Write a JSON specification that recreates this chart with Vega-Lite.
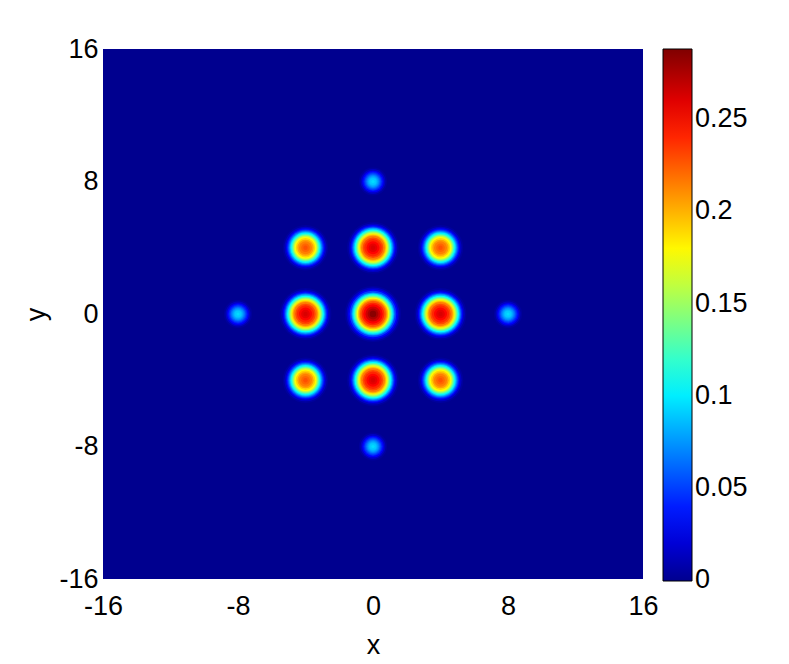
{
  "$schema": "https://vega.github.io/schema/vega-lite/v6.json",
  "width": 540,
  "height": 530,
  "autosize": "none",
  "padding": {"left": 103, "top": 49, "right": 146, "bottom": 85},
  "background": "white",
  "config": {
    "view": {"fill": "#00008F", "stroke": null},
    "font": "Liberation Sans"
  },
  "datasets": {
    "types": [
      {"type": "center", "xs": [0], "ys": [0]},
      {"type": "side", "xs": [4, -4, 0, 0], "ys": [0, 0, 4, -4]},
      {"type": "corner", "xs": [4, -4, 4, -4], "ys": [4, 4, -4, -4]},
      {"type": "small", "xs": [8, -8, 0, 0], "ys": [0, 0, 8, -8]}
    ],
    "profiles": [
      {"type": "center", "r": 1.541, "v": 0.004},
      {"type": "center", "r": 1.452, "v": 0.015},
      {"type": "center", "r": 1.363, "v": 0.03},
      {"type": "center", "r": 1.274, "v": 0.05},
      {"type": "center", "r": 1.185, "v": 0.075},
      {"type": "center", "r": 1.126, "v": 0.095},
      {"type": "center", "r": 1.067, "v": 0.115},
      {"type": "center", "r": 1.007, "v": 0.135},
      {"type": "center", "r": 0.948, "v": 0.155},
      {"type": "center", "r": 0.889, "v": 0.175},
      {"type": "center", "r": 0.83, "v": 0.195},
      {"type": "center", "r": 0.77, "v": 0.21},
      {"type": "center", "r": 0.711, "v": 0.225},
      {"type": "center", "r": 0.622, "v": 0.24},
      {"type": "center", "r": 0.533, "v": 0.252},
      {"type": "center", "r": 0.415, "v": 0.265},
      {"type": "center", "r": 0.296, "v": 0.275},
      {"type": "center", "r": 0.178, "v": 0.285},
      {"type": "side", "r": 1.422, "v": 0.004},
      {"type": "side", "r": 1.333, "v": 0.015},
      {"type": "side", "r": 1.244, "v": 0.03},
      {"type": "side", "r": 1.185, "v": 0.045},
      {"type": "side", "r": 1.126, "v": 0.065},
      {"type": "side", "r": 1.067, "v": 0.085},
      {"type": "side", "r": 1.007, "v": 0.105},
      {"type": "side", "r": 0.948, "v": 0.125},
      {"type": "side", "r": 0.889, "v": 0.145},
      {"type": "side", "r": 0.83, "v": 0.165},
      {"type": "side", "r": 0.77, "v": 0.185},
      {"type": "side", "r": 0.711, "v": 0.2},
      {"type": "side", "r": 0.652, "v": 0.215},
      {"type": "side", "r": 0.563, "v": 0.23},
      {"type": "side", "r": 0.474, "v": 0.24},
      {"type": "side", "r": 0.356, "v": 0.25},
      {"type": "side", "r": 0.237, "v": 0.258},
      {"type": "side", "r": 0.119, "v": 0.262},
      {"type": "corner", "r": 1.244, "v": 0.004},
      {"type": "corner", "r": 1.156, "v": 0.015},
      {"type": "corner", "r": 1.067, "v": 0.03},
      {"type": "corner", "r": 1.007, "v": 0.045},
      {"type": "corner", "r": 0.948, "v": 0.062},
      {"type": "corner", "r": 0.889, "v": 0.08},
      {"type": "corner", "r": 0.83, "v": 0.1},
      {"type": "corner", "r": 0.77, "v": 0.12},
      {"type": "corner", "r": 0.711, "v": 0.14},
      {"type": "corner", "r": 0.652, "v": 0.16},
      {"type": "corner", "r": 0.593, "v": 0.178},
      {"type": "corner", "r": 0.533, "v": 0.19},
      {"type": "corner", "r": 0.444, "v": 0.205},
      {"type": "corner", "r": 0.356, "v": 0.215},
      {"type": "corner", "r": 0.237, "v": 0.222},
      {"type": "corner", "r": 0.119, "v": 0.228},
      {"type": "small", "r": 0.77, "v": 0.004},
      {"type": "small", "r": 0.681, "v": 0.015},
      {"type": "small", "r": 0.593, "v": 0.03},
      {"type": "small", "r": 0.533, "v": 0.04},
      {"type": "small", "r": 0.474, "v": 0.05},
      {"type": "small", "r": 0.415, "v": 0.06},
      {"type": "small", "r": 0.356, "v": 0.07},
      {"type": "small", "r": 0.296, "v": 0.078},
      {"type": "small", "r": 0.237, "v": 0.085},
      {"type": "small", "r": 0.178, "v": 0.09},
      {"type": "small", "r": 0.089, "v": 0.095}
    ]
  },
  "data": {"name": "profiles"},
  "transform": [
    {"lookup": "type", "from": {"data": {"name": "types"}, "key": "type", "fields": ["xs", "ys"]}},
    {"flatten": ["xs", "ys"]}
  ],
  "mark": {"type": "point", "shape": "circle", "filled": true, "opacity": 1, "strokeWidth": 0},
  "encoding": {
    "x": {
      "field": "xs", "type": "quantitative",
      "scale": {"domain": [-16, 16], "nice": false, "zero": false},
      "axis": {
        "values": [-16, -8, 0, 8, 16], "domain": false, "ticks": false, "grid": false,
        "labelExpr": "datum.value < 0 ? '-' + abs(datum.value) : '' + datum.value",
        "labelFontSize": 27, "labelColor": "black", "labelPadding": 14,
        "labelFlush": false, "labelOverlap": false, "labelBound": false,
        "title": "x", "titleFontSize": 27, "titleFontWeight": "normal", "titleColor": "black", "titlePadding": 13
      }
    },
    "y": {
      "field": "ys", "type": "quantitative",
      "scale": {"domain": [-16, 16], "nice": false, "zero": false},
      "axis": {
        "values": [-16, -8, 0, 8, 16], "domain": false, "ticks": false, "grid": false,
        "labelExpr": "datum.value < 0 ? '-' + abs(datum.value) : '' + datum.value",
        "labelFontSize": 27, "labelColor": "black", "labelPadding": 5,
        "labelFlush": false, "labelOverlap": false, "labelBound": false,
        "title": "y", "titleFontSize": 27, "titleFontWeight": "normal", "titleColor": "black", "titlePadding": 8
      }
    },
    "size": {
      "field": "r", "type": "quantitative",
      "scale": {"type": "pow", "exponent": 2, "domain": [0, 1], "range": [0, 1330]},
      "legend": null
    },
    "color": {
      "field": "v", "type": "quantitative",
      "scale": {
        "type": "linear",
        "domain": [-0.0004, 0.032, 0.105, 0.178, 0.251, 0.288],
        "range": ["#00008F", "#0000FF", "#00FFFF", "#FFFF00", "#FF0000", "#800000"],
        "interpolate": "rgb"
      },
      "legend": {
        "title": null,
        "orient": "right",
        "offset": 20,
        "padding": 0,
        "gradientLength": 532,
        "gradientThickness": 29,
        "gradientStrokeColor": "black",
        "gradientStrokeWidth": 1,
        "values": [0, 0.05, 0.1, 0.15, 0.2, 0.25],
        "format": "~g",
        "labelFontSize": 27,
        "labelColor": "black",
        "labelOffset": 3,
        "labelOverlap": false,
        "labelBaseline": "middle"
      }
    },
    "order": {"field": "r", "type": "quantitative", "sort": "descending"}
  }
}
